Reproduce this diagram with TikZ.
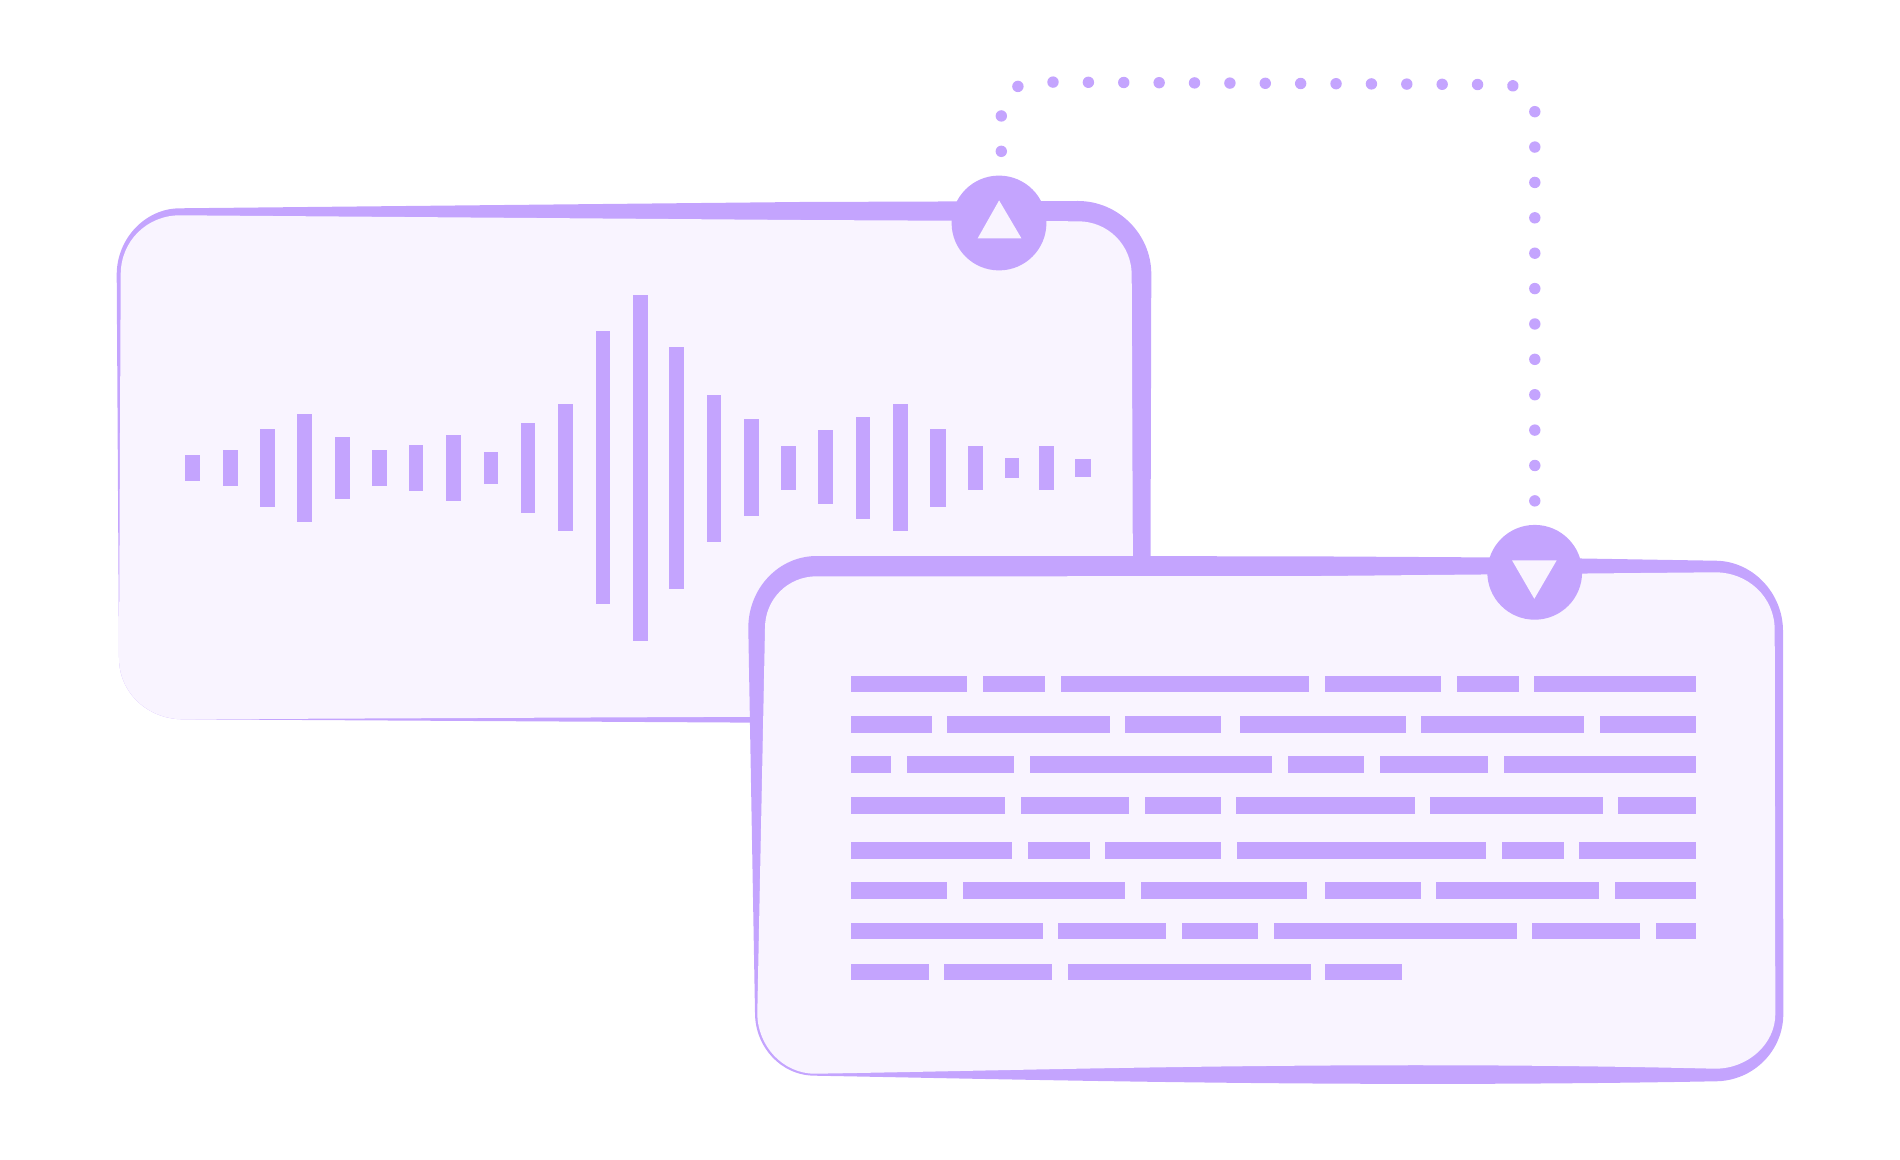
\documentclass[tikz,border=0pt]{standalone}
\usetikzlibrary{backgrounds}
\definecolor{ink}{HTML}{C4A4FE}
\definecolor{paper}{HTML}{F9F4FF}
\tikzset{
  bar/.style={fill=ink},
  hub/.style={circle,fill=ink,inner sep=0pt,minimum size=47.4pt},
  glyph/.style={fill=paper},
  dotline/.style={draw=ink,line width=5.7pt,line cap=round,dash pattern=on 0.01pt off 17.68pt,dash phase=17.22pt}
}
\begin{document}
\begin{tikzpicture}[x=0.5pt,y=-0.5pt]
\useasboundingbox (0,0) rectangle (1900,1160);
% audio card
\fill[ink] (180,208.3) -- (800,202) -- (1078,201) .. controls (1118,201) and (1151.3,234) .. (1151.3,274) -- (1150.4,600) -- (900,722) -- (748,722.6) -- (183,719.3) .. controls (148,719.3) and (119,693) .. (119,658) -- (116.7,274.5) .. controls (116.7,239) and (145,208.3) .. cycle;
\fill[paper] (180,215.3) -- (800,220) -- (1078,221.3) .. controls (1108,221.3) and (1131.7,245) .. (1131.7,275) -- (1133,600) -- (900,716) -- (748,716.8) -- (183,719.3) .. controls (148,719.3) and (119,693) .. (119,658) -- (120.7,274.5) .. controls (120.7,241) and (147,215.3) .. cycle;
\foreach \a/\b/\c/\d in {185.3/455.4/200/480.7,222.8/449.7/237.5/486.4,259.8/429.4/274.6/506.7,297.3/414.1/312/521.7,334.8/437/349.6/498.7,372.3/449.7/387/486.4,408.5/445.1/423.2/490.7,446/434.8/460.7/501,483.5/452/498.2/483.8,520.5/422.9/535.3/513.2,558/404.5/572.8/531.2,595.5/331.5/609.8/604.3,633/295.1/647.8/640.7,669.2/346.8/683.5/589.4,706.7/394.6/721/541.5,743.8/419.5/758.5/516.3,781.3/445.5/796/489.9,818/430/832.5/504,855.5/417/870/518.6,893/404.4/908/531,930.4/428.9/945.5/506.6,967.9/445.7/983/490.1,1004.5/457.6/1019.2/478.2,1038.8/445.7/1054/490.1,1075.4/459.1/1090.6/476.7}
  \fill[bar] (\a,\b) rectangle (\c,\d);
% text card
\fill[ink] (816.7,556) -- (1300,556.3) -- (1487,557.4) -- (1582,558.5) -- (1715,560.7) .. controls (1752.5,560.7) and (1783,593) .. (1783,631) -- (1783.3,1014) .. controls (1783.3,1051) and (1753,1081.3) .. (1715,1081.3) .. controls (1350,1088) and (1050,1080) .. (815,1075.7) .. controls (781,1075.7) and (755,1047) .. (755,1013) -- (748.3,628) .. controls (748.3,588) and (779,556) .. cycle;
\fill[paper] (816.7,576.3) -- (1300,576.2) -- (1715,572.3) .. controls (1748,572.3) and (1774.7,597) .. (1774.7,630) -- (1775.3,1014) .. controls (1775.3,1044) and (1748,1068.7) .. (1715,1068.7) .. controls (1350,1060) and (1050,1070) .. (815,1073.7) .. controls (783,1073.7) and (757.3,1046) .. (757.3,1013) -- (765,628) .. controls (765,599) and (788,576.3) .. cycle;
\foreach \y/\z/\spans in {675.7/692.3/{851.3/967.3,983/1045,1060.6/1309,1325/1441.3,1456.7/1518.7,1534/1695.7},
  716/732.7/{851.3/932,947.2/1110.2,1125.4/1221.3,1239.6/1405.7,1421.3/1584,1599.7/1695.7},
  756.3/772.7/{851.3/890.5,906.6/1014.2,1029.8/1272.2,1288.3/1364.3,1380/1488.3,1503.7/1695.7},
  797.3/813.7/{851.3/1005.3,1020.9/1128.9,1144.5/1221.3,1236/1415,1430.3/1602.7,1618.3/1695.7},
  842/858.7/{851.3/1012.4,1028/1089.6,1105.3/1221.3,1237.4/1486.3,1501.7/1563.7,1579/1695.7},
  882.3/898.7/{851.3/947.2,962.9/1125.4,1141/1306.7,1325/1421,1436.3/1599,1614.7/1695.7},
  922.7/939/{851.3/1042.8,1058.4/1166.4,1182/1258,1274/1516.7,1532/1640.3,1655.7/1695.7},
  963.7/980/{851.3/928.5,944.1/1052.1,1067.8/1311,1325/1402.3}}
  \foreach \a/\c in \spans { \fill[bar] (\a,\y) rectangle (\c,\z); };
% hubs with triangles
\node[hub] (src) at (999,223) {};
\fill[glyph] (999.1,200.4) -- (1021.4,238.3) -- (977.7,238.3) -- cycle;
\node[hub] (dst) at (1534.7,572.3) {};
\fill[glyph] (1512,560.3) -- (1556.7,560.3) -- (1534.3,598.8) -- cycle;
% dotted connector
\begin{scope}[on background layer]
\draw[dotline] (src.center) -- (1001.3,151.4) -- (1001.3,115.8) -- (1005.2,98.6) -- (1017.9,86.4) -- (1052.7,82.1) -- (1476.8,84.5) -- (1512.5,85.6) -- (1527.3,95.2) -- (1534.8,111.2) -- (1534.8,500.4) -- (dst.center);
\end{scope}
\end{tikzpicture}
\end{document}
